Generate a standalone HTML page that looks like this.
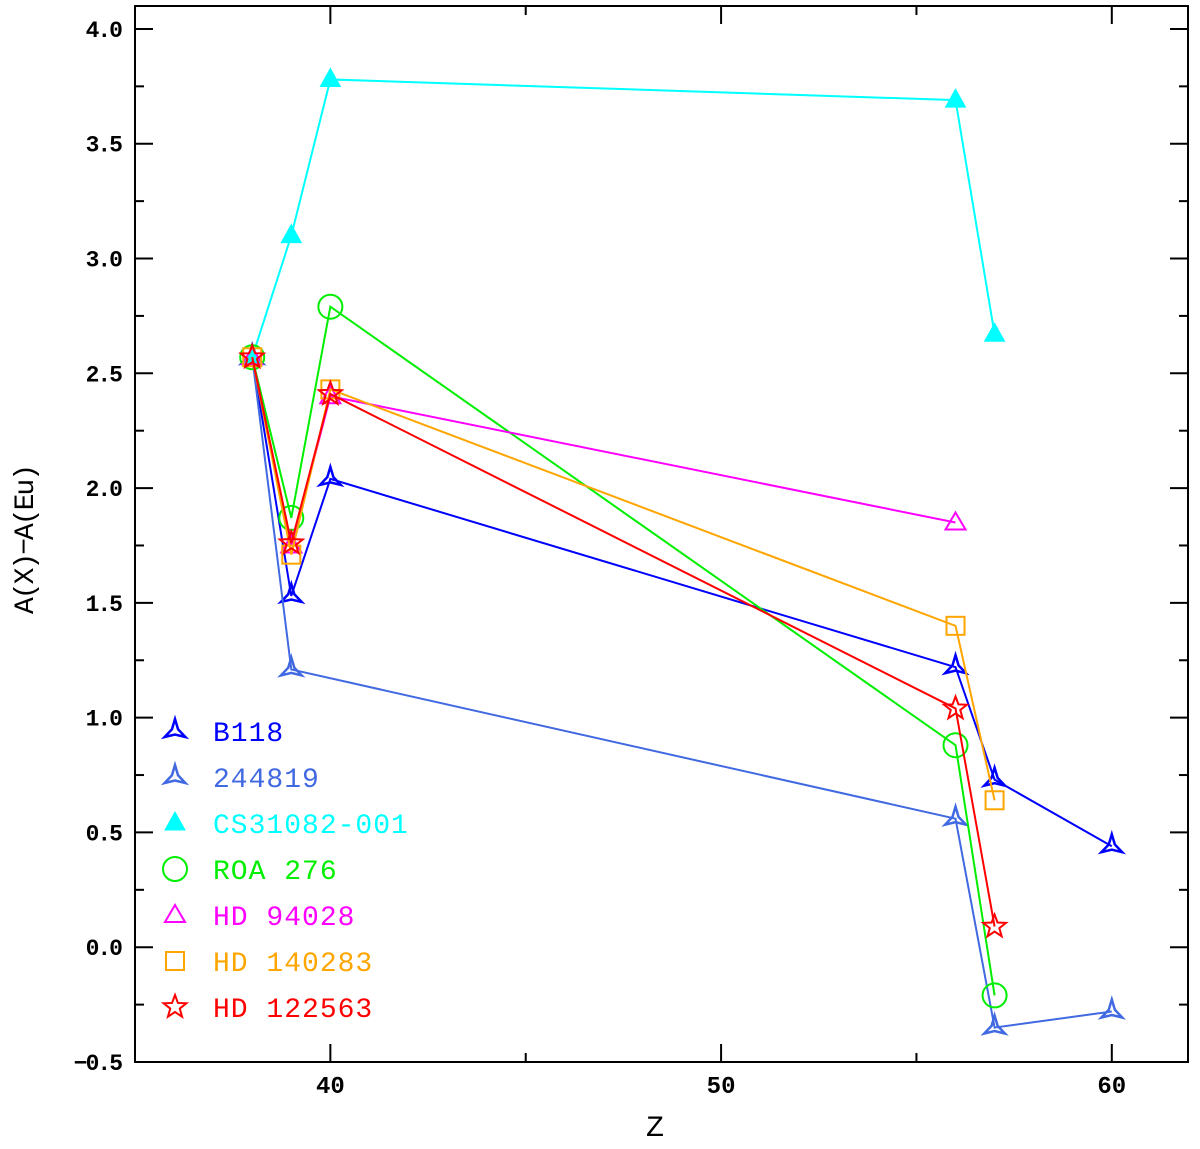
<!DOCTYPE html>
<html><head><meta charset="utf-8"><style>
body{margin:0;background:#fff;width:1200px;height:1144px;overflow:hidden}
</style></head><body>
<svg id="chart" width="1200" height="1144" xmlns="http://www.w3.org/2000/svg"></svg>
<script>
const seriesNames=["B118","244819","CS31082-001","ROA 276","HD 94028","HD 140283","HD 122563"];
const seriesColors=["#0000ff","#4169e1","#00ffff","#00ee00","#ff00ff","#ffa500","#ff0000"];
const seriesMarkers=["tri3","tri3","filltri","circle","tri","square","star"];
const zB118=[38,39,40,56,57,60];
const yB118=[2.57,1.53,2.04,1.22,0.73,0.44];
const z244819=[38,39,56,57,60];
const y244819=[2.57,1.21,0.56,-0.35,-0.28];
const zCS=[38,39,40,56,57];
const yCS=[2.57,3.10,3.78,3.69,2.67];
const zROA=[38,39,40,56,57];
const yROA=[2.57,1.87,2.79,0.88,-0.21];
const zHD94028=[38,39,40,56];
const yHD94028=[2.57,1.75,2.40,1.85];
const zHD140283=[38,39,40,56,57];
const yHD140283=[2.57,1.71,2.43,1.40,0.64];
const zHD122563=[38,39,40,56,57];
const yHD122563=[2.57,1.76,2.41,1.04,0.09];
const xTicks=[40,50,60];
const yTicks=[-0.5,0,0.5,1,1.5,2,2.5,3,3.5,4];
const yTickLabels=["−0.5","0.0","0.5","1.0","1.5","2.0","2.5","3.0","3.5","4.0"];
const allZ=[zB118,z244819,zCS,zROA,zHD94028,zHD140283,zHD122563];
const allY=[yB118,y244819,yCS,yROA,yHD94028,yHD140283,yHD122563];

const L=135,R=1188,T=6,B=1062,X0=35,X1=61.95,Y0=-0.5,Y1=4.1;
const sx=v=>L+(v-X0)/(X1-X0)*(R-L);
const sy=v=>B-(v-Y0)/(Y1-Y0)*(B-T);
const svg=document.getElementById('chart');
const NS="http://www.w3.org/2000/svg";
const MONO='"Liberation Mono", "DejaVu Sans Mono", monospace';
function mk(tag,attrs,parent){const e=document.createElementNS(NS,tag);for(const k in attrs)e.setAttribute(k,attrs[k]);(parent||svg).appendChild(e);return e;}

const frame=mk('rect',{x:L,y:T,width:R-L,height:B-T,fill:'none',stroke:'#000','stroke-width':2});


for(let v=X0;v<=X1;v+=1){
  if(v%5!==0)continue;
  const len=v%10===0?18:9;const x=sx(v);
  const t1=mk('line',{x1:x,y1:B,x2:x,y2:B-len,stroke:'#000','stroke-width':2});
  
  
  const t2=mk('line',{x1:x,y1:T,x2:x,y2:T+len,stroke:'#000','stroke-width':2});
  
  
}
xTicks.forEach(v=>{const t=mk('text',{x:sx(v),y:B+31,'text-anchor':'middle','font-size':24,'font-weight':'bold','font-family':MONO});t.textContent=v;
  
  });
for(let i=0;i<=18;i++){
  const v=-0.5+i*0.25;if(v>Y1)break;
  const len=i%2===0?18:9;const y=sy(v);
  const t1=mk('line',{x1:L,y1:y,x2:L+len,y2:y,stroke:'#000','stroke-width':2});
  
  
  const t2=mk('line',{x1:R,y1:y,x2:R-len,y2:y,stroke:'#000','stroke-width':2});
  
  
}
yTicks.forEach((v,i)=>{const t=mk('text',{x:L-14,y:sy(v)+8,'text-anchor':'end','font-size':23,'font-weight':'bold','font-family':MONO,'letter-spacing':-2});t.textContent=yTickLabels[i];
  
  });
const xt=mk('text',{x:655,y:1136,'text-anchor':'middle','font-size':30,'font-family':MONO});xt.textContent='Z';


const yt=mk('text',{x:0,y:0,'text-anchor':'middle','font-size':28,'font-family':MONO,'letter-spacing':-2,transform:'translate(33,540) rotate(-90)'});yt.textContent='A(X)−A(Eu)';



function marker(type,x,y,color,g){
  const sw=2;let e;
  if(type==='tri3'){
    const r=12,ri=3.5;let d='';
    for(let k=0;k<6;k++){const a=-Math.PI/2+k*Math.PI/3;const rr=k%2===0?r:ri;d+=(k?'L':'M')+(x+rr*Math.cos(a))+','+(y+rr*Math.sin(a));}
    e=mk('path',{d:d+'Z',fill:'none',stroke:color,'stroke-width':2.5},g);
  }else if(type==='filltri'){
    e=mk('path',{d:`M${x},${y-11}L${x+10},${y+7}L${x-10},${y+7}Z`,fill:color,stroke:color,'stroke-width':1},g);
  }else if(type==='tri'){
    e=mk('path',{d:`M${x},${y-10}L${x+10},${y+7}L${x-10},${y+7}Z`,fill:'none',stroke:color,'stroke-width':sw},g);
  }else if(type==='circle'){
    e=mk('circle',{cx:x,cy:y,r:12,fill:'none',stroke:color,'stroke-width':sw},g);
  }else if(type==='square'){
    e=mk('rect',{x:x-9,y:y-9,width:18,height:18,fill:'none',stroke:color,'stroke-width':sw},g);
  }else{
    let d='';for(let k=0;k<10;k++){const a=-Math.PI/2+k*Math.PI/5;const rr=k%2===0?12:5;d+=(k?'L':'M')+(x+rr*Math.cos(a))+','+(y+rr*Math.sin(a));}
    e=mk('path',{d:d+'Z',fill:'none',stroke:color,'stroke-width':sw},g);
  }
  return e;
}
seriesNames.forEach((n,i)=>{
  const g=mk('g',{});
  
  
  const pts=allZ[i].map((z,j)=>sx(z)+','+sy(allY[i][j])).join(' ');
  const pl=mk('polyline',{points:pts,fill:'none',stroke:seriesColors[i],'stroke-width':2},g);
  
  
  allZ[i].forEach((z,j)=>{const m=marker(seriesMarkers[i],sx(z),sy(allY[i][j]),seriesColors[i],g);
    
    });
  const ly=731+i*46;
  const lg=mk('g',{});
  
  
  marker(seriesMarkers[i],175,ly,seriesColors[i],lg);
  const lt=mk('text',{x:213,y:ly+10,'font-size':28,fill:seriesColors[i],'font-family':MONO,'letter-spacing':1},lg);
  lt.textContent=n;
});
</script>
</body></html>
